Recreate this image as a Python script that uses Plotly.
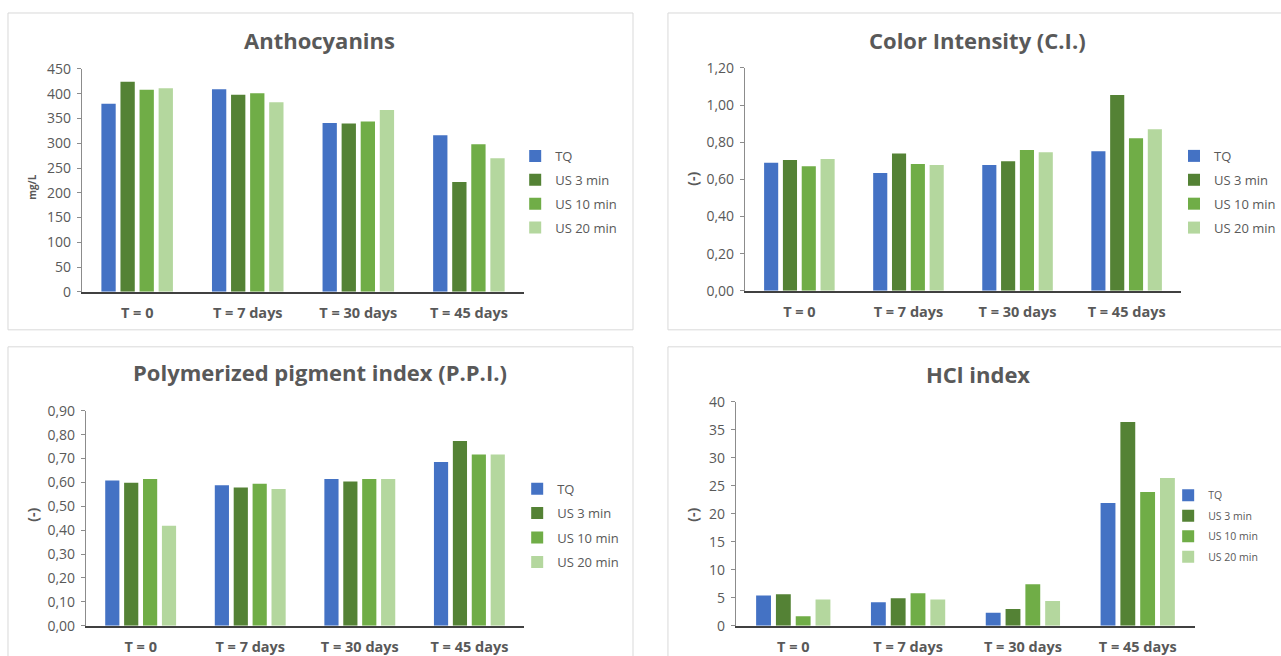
import plotly.graph_objects as go

W, H = 1281, 656

categories = ["T = 0", "T = 7 days", "T = 30 days", "T = 45 days"]
series_names = ["TQ", "US 3 min", "US 10 min", "US 20 min"]
series_colors = ["#4472C4", "#548235", "#70AD47", "#B4D79E"]

# Anthocyanins (mg/L)
antho_tq = [380, 409, 341, 316]
antho_us3 = [424, 398, 340, 222]
antho_us10 = [408, 401, 344, 298]
antho_us20 = [411, 383, 367, 270]

# Color Intensity (-)
ci_tq = [0.690, 0.635, 0.678, 0.752]
ci_us3 = [0.705, 0.739, 0.698, 1.055]
ci_us10 = [0.671, 0.683, 0.759, 0.822]
ci_us20 = [0.710, 0.678, 0.746, 0.870]

# Polymerized pigment index (-)
ppi_tq = [0.608, 0.588, 0.614, 0.686]
ppi_us3 = [0.599, 0.579, 0.604, 0.774]
ppi_us10 = [0.614, 0.594, 0.614, 0.717]
ppi_us20 = [0.419, 0.572, 0.614, 0.717]

# HCl index (-)
hcl_tq = [5.4, 4.2, 2.3, 21.9]
hcl_us3 = [5.6, 4.9, 3.0, 36.4]
hcl_us10 = [1.7, 5.8, 7.4, 23.9]
hcl_us20 = [4.7, 4.7, 4.4, 26.4]

panel_titles = ["Anthocyanins", "Color Intensity (C.I.)",
                "Polymerized pigment index (P.P.I.)", "HCl index"]
y_titles = ["mg/L", "(-)", "(-)", "(-)"]
y_ranges = [[0, 450], [0, 1.2], [0, 0.9], [0, 40]]
y_dticks = [50, 0.2, 0.1, 5]
y_formats = ["d", ".2f", ".2f", "d"]

panel_data = [
    [antho_tq, antho_us3, antho_us10, antho_us20],
    [ci_tq, ci_us3, ci_us10, ci_us20],
    [ppi_tq, ppi_us3, ppi_us10, ppi_us20],
    [hcl_tq, hcl_us3, hcl_us10, hcl_us20],
]

# layout geometry in target-image pixels
plot_boxes = [  # x0, x1, ytop, ybottom
    (82, 525, 70, 293),
    (746, 1183, 69, 292),
    (86, 525, 412, 627),
    (737, 1197, 403, 627),
]
frames = [(8, 634, 14, 331), (669, 1300, 14, 331), (8, 634, 348, 720), (669, 1300, 348, 720)]
title_pos = [(320, 41), (979, 41), (320, 373), (980, 375)]
ytitle_pos = [(32, 188), (694, 180), (33, 516), (694, 516)]
legend_pos = [(516, 142), (1176, 142), (518, 475), (1170, 482)]
legend_font = [13, 13, 13, 10.5]
legend_gap = [4, 4, 4.5, 1.5]

FONT = "Open Sans"
TXT = "#595959"

# the page is captured with a slight vertical fit; compensate
YO, YS = 11.0, 0.970

def px(x):
    return x / W

def py(y):
    return 1 - ((y - YO) / YS) / H

fig = go.Figure()
for p in range(4):
    ax = "" if p == 0 else str(p + 1)
    leg = "legend" if p == 0 else "legend" + str(p + 1)
    for s in range(4):
        fig.add_trace(go.Bar(
            x=categories, y=panel_data[p][s], name=series_names[s],
            marker=dict(color=series_colors[s], line=dict(width=0)),
            xaxis="x" + ax, yaxis="y" + ax, legend=leg,
            legendgroup=f"p{p}s{s}",
        ))

layout = dict(
    width=W, height=H, autosize=False, margin=dict(l=0, r=0, t=0, b=0),
    paper_bgcolor="white", plot_bgcolor="white",
    barmode="group", bargap=0.31, bargroupgap=0.25,
    separators=", ",
    font=dict(family=FONT, color=TXT),
    showlegend=True,
)
shapes = []
annotations = []
for p in range(4):
    ax = "" if p == 0 else str(p + 1)
    x0, x1, yt, yb = plot_boxes[p]
    layout["xaxis" + ax] = dict(
        domain=[px(x0), px(x1)], anchor="y" + ax,
        showline=True, linecolor="#404040", linewidth=1.5,
        ticks="", showgrid=False, zeroline=False,
        tickfont=dict(family=FONT, size=14.5, color=TXT, weight="bold"),
        ticklabelstandoff=7, fixedrange=True,
    )
    layout["yaxis" + ax] = dict(
        domain=[py(yb), py(yt)], anchor="x" + ax,
        range=y_ranges[p], dtick=y_dticks[p], tickformat=y_formats[p],
        showline=True, linecolor="#8c8c8c", linewidth=1,
        ticks="outside", ticklen=4, tickcolor="#8c8c8c",
        showgrid=False, zeroline=False,
        tickfont=dict(family=FONT, size=14, color=TXT),
        ticklabelstandoff=3, fixedrange=True,
    )
    lname = "legend" if p == 0 else "legend" + str(p + 1)
    lx, ly = legend_pos[p]
    layout[lname] = dict(
        x=px(lx), y=py(ly), xanchor="left", yanchor="top",
        bgcolor="rgba(0,0,0,0)", borderwidth=0,
        font=dict(family=FONT, size=legend_font[p], color=TXT),
        itemwidth=30, tracegroupgap=legend_gap[p],
        itemclick=False, itemdoubleclick=False,
    )
    fx0, fx1, fy0, fy1 = frames[p]
    shapes.append(dict(type="rect", xref="paper", yref="paper",
                       x0=px(fx0), x1=px(fx1), y0=py(fy1), y1=py(fy0),
                       line=dict(color="#d9d9d9", width=1), layer="below"))
    tx, ty = title_pos[p]
    annotations.append(dict(text="<b>" + panel_titles[p] + "</b>", xref="paper", yref="paper",
                            x=px(tx), y=py(ty), xanchor="center", yanchor="middle",
                            showarrow=False, font=dict(family=FONT, size=22, color=TXT)))
    ax_x, ax_y = ytitle_pos[p]
    annotations.append(dict(text="<b>" + y_titles[p] + "</b>", xref="paper", yref="paper",
                            x=px(ax_x), y=py(ax_y), xanchor="center", yanchor="middle",
                            textangle=-90, showarrow=False,
                            font=dict(family=FONT, size=10 if p == 0 else 14, color=TXT)))

layout["shapes"] = shapes
layout["annotations"] = annotations
fig.update_layout(**layout)

fig.write_html(
    "out.html", config={"displayModeBar": False},
    post_script=(
        "var d=document.getElementById('{plot_id}');"
        "d.style.position='fixed';d.style.left='0px';d.style.top='0px';"
        "document.documentElement.style.overflow='hidden';"
        "document.body.style.margin='0';document.body.style.overflow='hidden';"
    ),
)
